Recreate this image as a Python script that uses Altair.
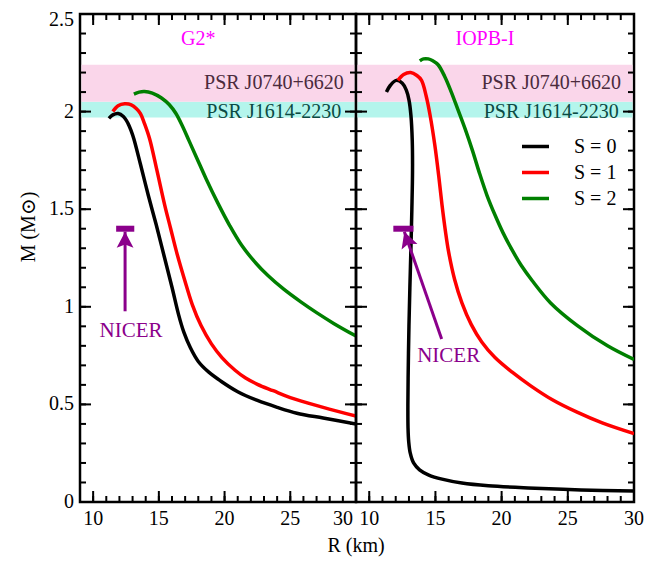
import altair as alt
import pandas as pd

FONT = "'Liberation Serif', 'Times New Roman', 'Nimbus Roman', 'DejaVu Serif', serif"

S_LABELS = ["S = 0", "S = 1", "S = 2"]
S_COLORS = ["#000000", "#ff0000", "#008000"]

# ---- G2* panel (R in km, M in solar masses) ----
g2_s0_R = [11.2, 11.5, 11.9, 12.3, 12.65, 12.9, 13.1, 13.6, 14.2, 14.8, 15.4, 16.0, 16.5, 16.9, 17.4, 18.0, 18.8, 19.7, 21.0, 22.5, 24.0, 25.5, 27.5, 30.0]
g2_s0_M = [1.965, 1.983, 1.99, 1.975, 1.94, 1.90, 1.86, 1.73, 1.57, 1.42, 1.26, 1.10, 0.96, 0.87, 0.79, 0.72, 0.665, 0.62, 0.565, 0.52, 0.485, 0.455, 0.43, 0.40]
g2_s1_R = [11.5, 11.9, 12.4, 12.9, 13.3, 13.6, 13.9, 14.3, 14.85, 15.45, 15.9, 16.35, 16.95, 17.55, 18.2, 19.0, 19.8, 20.8, 21.6, 22.5, 23.7, 25.0, 27.5, 30.0]
g2_s1_M = [2.00, 2.03, 2.04, 2.035, 2.015, 1.99, 1.94, 1.86, 1.70, 1.52, 1.40, 1.28, 1.14, 1.01, 0.905, 0.81, 0.74, 0.675, 0.635, 0.603, 0.57, 0.535, 0.485, 0.44]
g2_s2_R = [13.1, 13.5, 13.9, 14.5, 15.2, 15.8, 16.3, 16.8, 17.3, 17.9, 18.6, 19.5, 20.4, 21.3, 22.3, 23.3, 24.5, 25.8, 27.0, 28.3, 30.0]
g2_s2_M = [2.09, 2.10, 2.103, 2.095, 2.07, 2.035, 1.99, 1.925, 1.85, 1.76, 1.655, 1.53, 1.415, 1.315, 1.23, 1.16, 1.09, 1.025, 0.97, 0.915, 0.85]

# ---- IOPB-I panel ----
io_s0_R = [11.3, 11.6, 12.05, 12.5, 12.8, 13.0, 13.15, 13.25, 13.27, 13.22, 13.15, 13.07, 13.0, 12.95, 12.92, 12.93, 12.98, 13.1, 13.35, 13.8, 14.5, 15.5, 17.0, 19.0, 22.0, 26.0, 30.0]
io_s0_M = [2.10, 2.135, 2.16, 2.145, 2.11, 2.06, 1.98, 1.85, 1.70, 1.50, 1.30, 1.10, 0.90, 0.70, 0.50, 0.38, 0.31, 0.25, 0.20, 0.165, 0.138, 0.117, 0.097, 0.083, 0.072, 0.062, 0.056]
io_s1_R = [12.17, 12.6, 13.13, 13.6, 13.95, 14.3, 14.6, 14.95, 15.25, 15.5, 15.75, 16.0, 16.45, 17.0, 17.7, 18.5, 19.5, 20.8, 22.2, 23.8, 25.7, 27.6, 30.0]
io_s1_M = [2.16, 2.19, 2.20, 2.185, 2.16, 2.08, 1.98, 1.83, 1.67, 1.52, 1.39, 1.28, 1.14, 1.02, 0.91, 0.82, 0.74, 0.665, 0.595, 0.525, 0.46, 0.405, 0.35]
io_s2_R = [13.82, 14.1, 14.46, 14.8, 15.2, 15.7, 16.2, 16.7, 17.25, 17.8, 18.35, 18.9, 19.5, 20.1, 20.8, 21.5, 22.3, 23.7, 25.7, 28.0, 30.0]
io_s2_M = [2.26, 2.27, 2.27, 2.26, 2.24, 2.18, 2.10, 2.01, 1.91, 1.80, 1.68, 1.57, 1.47, 1.38, 1.29, 1.21, 1.135, 1.02, 0.905, 0.80, 0.73]

# observational bands
band_names = ["PSR J1614-2230", "PSR J0740+6620"]
band_lo = [1.97, 2.05]
band_hi = [2.05, 2.24]
band_fill = ["#b4f5ec", "#fad6ea"]
band_text_color = ["#0b4a43", "#4b2b3d"]
band_text_M = [1.996, 2.148]
band_text_R = 23.75

X_MAJOR = [10, 15, 20, 25, 30]
X_MINOR = list(range(9, 31))
Y_MAJOR = [0, 0.5, 1, 1.5, 2, 2.5]
Y_MINOR = [i / 10 for i in range(26)]
X_TITLE = "R (km)"
Y_TITLE = "M (M⊙)"

R_MIN, R_MAX = 9, 30
M_MIN, M_MAX = 0, 2.5
XS = alt.Scale(domain=[R_MIN, R_MAX], nice=False, zero=False)
YS = alt.Scale(domain=[M_MIN, M_MAX], nice=False, zero=False)
PURPLE = "#8b008b"
MAGENTA = "#ff00ff"
H = 488
MAJOR_PX, MINOR_PX = 11, 6
FRAME = alt.ViewBackground(stroke="black", strokeWidth=2.5)

LEGEND = alt.Legend(orient="none", legendX=440, legendY=117, title=None,
                    symbolType="stroke", symbolSize=729, symbolStrokeWidth=3.5,
                    labelFont=FONT, labelFontSize=20, labelColor="black",
                    labelOffset=23, rowPadding=-10.5, padding=0)


def series_df(Rs_list, Ms_list):
    rows = []
    for lab, Rs, Ms in zip(S_LABELS, Rs_list, Ms_list):
        for i, (r, m) in enumerate(zip(Rs, Ms)):
            rows.append({"R": r, "M": m, "S": lab, "i": i})
    return pd.DataFrame(rows)


def X(f):
    return alt.X(f, scale=XS, axis=None)


def Y(f):
    return alt.Y(f, scale=YS, axis=None)


def ticks_layer(width):
    # inward frame ticks: tick length converted from pixels into data units
    kx = (R_MAX - R_MIN) / width
    ky = (M_MAX - M_MIN) / H
    rows = []
    for vals, px in ((X_MINOR, MINOR_PX), (X_MAJOR, MAJOR_PX)):
        for v in vals:
            rows.append({"x1": v, "x2": v, "y1": M_MIN, "y2": M_MIN + px * ky})
            rows.append({"x1": v, "x2": v, "y1": M_MAX, "y2": M_MAX - px * ky})
    for vals, px in ((Y_MINOR, MINOR_PX), (Y_MAJOR, MAJOR_PX)):
        for v in vals:
            rows.append({"x1": R_MIN, "x2": R_MIN + px * kx, "y1": v, "y2": v})
            rows.append({"x1": R_MAX, "x2": R_MAX - px * kx, "y1": v, "y2": v})
    return alt.Chart(pd.DataFrame(rows)).mark_rule(color="black", strokeWidth=2).encode(
        x=X("x1:Q"), x2="x2:Q", y=Y("y1:Q"), y2="y2:Q")


def xlabels(values, align="center", dx=0):
    return alt.Chart(pd.DataFrame({"lv": values})).mark_text(
        font=FONT, fontSize=20, color="black", align=align, baseline="top", dx=dx).encode(
        x=X("lv:Q"), y=alt.value(H + 7), text=alt.Text("lv:Q", format="d"))


def ylabels(values, dy=0):
    return alt.Chart(pd.DataFrame({"lm": values})).mark_text(
        font=FONT, fontSize=20, color="black", align="right", baseline="middle", dy=dy).encode(
        y=Y("lm:Q"), x=alt.value(-6), text=alt.Text("lm:Q", format="~g"))


def panel(df, name, name_R, nicer, left, width):
    bands_df = pd.DataFrame({"name": band_names, "lo": band_lo, "hi": band_hi,
                             "fill": band_fill, "tc": band_text_color, "tm": band_text_M})
    bands = alt.Chart(bands_df).mark_rect().encode(
        x=alt.value(1.5), x2=alt.value(width - 1.5),
        y=Y("lo:Q"), y2="hi:Q",
        fill=alt.Fill("fill:N", scale=None))
    bands_txt = alt.Chart(bands_df.assign(tr=band_text_R)).mark_text(
        font=FONT, fontSize=20, align="center", baseline="middle").encode(
        x=X("tr:Q"), y=Y("tm:Q"),
        text="name:N", color=alt.Color("tc:N", scale=None))

    lines = alt.Chart(df).mark_line(strokeWidth=3.5, interpolate="catmull-rom", clip=True).encode(
        x=X("R:Q"), y=Y("M:Q"),
        color=alt.Color("S:N", scale=alt.Scale(domain=S_LABELS, range=S_COLORS), legend=LEGEND),
        order="i:Q", detail="S:N")

    name_df = pd.DataFrame({"R": [name_R], "M": [2.37], "t": [name]})
    name_txt = alt.Chart(name_df).mark_text(font=FONT, fontSize=20, color=MAGENTA, align="center", baseline="middle").encode(
        x=X("R:Q"), y=Y("M:Q"), text="t:N")

    bar_df = pd.DataFrame({"r1": [nicer["bar"][0]], "r2": [nicer["bar"][1]], "m": [nicer["bar"][2]]})
    bar = alt.Chart(bar_df).mark_rule(strokeWidth=6, color=PURPLE).encode(
        x=X("r1:Q"), x2="r2:Q", y=Y("m:Q"))
    sh_df = pd.DataFrame({"r1": [nicer["tail"][0]], "m1": [nicer["tail"][1]],
                          "r2": [nicer["tip"][0]], "m2": [nicer["tip"][1]]})
    shaft = alt.Chart(sh_df).mark_rule(strokeWidth=3, color=PURPLE).encode(
        x=X("r1:Q"), x2="r2:Q", y=Y("m1:Q"), y2="m2:Q")
    head = alt.Chart(sh_df).mark_point(shape="M0,0L1.05,2L0,1.6L-1.05,2Z", size=256, filled=True,
                                        opacity=1, color=PURPLE, strokeWidth=0, angle=nicer["angle"]).encode(
        x=X("r2:Q"), y=Y("m2:Q"))
    nt_df = pd.DataFrame({"R": [nicer["text"][0]], "M": [nicer["text"][1]], "t": ["NICER"]})
    ntxt = alt.Chart(nt_df).mark_text(font=FONT, fontSize=21, color=PURPLE, align="center", baseline="middle").encode(
        x=X("R:Q"), y=Y("M:Q"), text="t:N")

    if left:
        labels = [
            xlabels(X_MAJOR[:-1]), xlabels(X_MAJOR[-1:], align="right", dx=-3),
            ylabels(Y_MAJOR[:-1]), ylabels(Y_MAJOR[-1:], dy=6),
            alt.Chart(pd.DataFrame({"t": [Y_TITLE]})).mark_text(
                font=FONT, fontSize=20, color="black", angle=270, align="center", baseline="middle").encode(
                x=alt.value(-51), y=alt.value(213), text="t:N"),
            alt.Chart(pd.DataFrame({"t": [X_TITLE]})).mark_text(
                font=FONT, fontSize=20, color="black", align="center", baseline="middle").encode(
                x=alt.value(width), y=alt.value(H + 44), text="t:N"),
        ]
    else:
        labels = [xlabels(X_MAJOR)]

    return alt.layer(bands, bands_txt, lines, name_txt, bar, shaft, head, ntxt, *labels,
                     ticks_layer(width)).properties(width=width, height=H, view=FRAME)


g2_df = series_df([g2_s0_R, g2_s1_R, g2_s2_R], [g2_s0_M, g2_s1_M, g2_s2_M])
io_df = series_df([io_s0_R, io_s1_R, io_s2_R], [io_s0_M, io_s1_M, io_s2_M])

left = panel(g2_df, "G2*", 18.0,
             {"bar": (11.75, 13.13, 1.40), "tail": (12.43, 0.977), "tip": (12.43, 1.385), "angle": 0, "text": (12.88, 0.876)},
             True, 276)
right = panel(io_df, "IOPB-I", 18.74,
              {"bar": (11.82, 13.34, 1.40), "tail": (15.47, 0.835), "tip": (12.65, 1.385), "angle": 341, "text": (16.0, 0.75)},
              False, 278)

chart = alt.hconcat(left, right, spacing=0, bounds="flush").properties(
    padding={"left": 9, "top": 0, "right": 5, "bottom": 5}
).configure_view(stroke="black", strokeWidth=2.5)

chart.save("out.html", embed_options={"renderer": "svg", "actions": False})
